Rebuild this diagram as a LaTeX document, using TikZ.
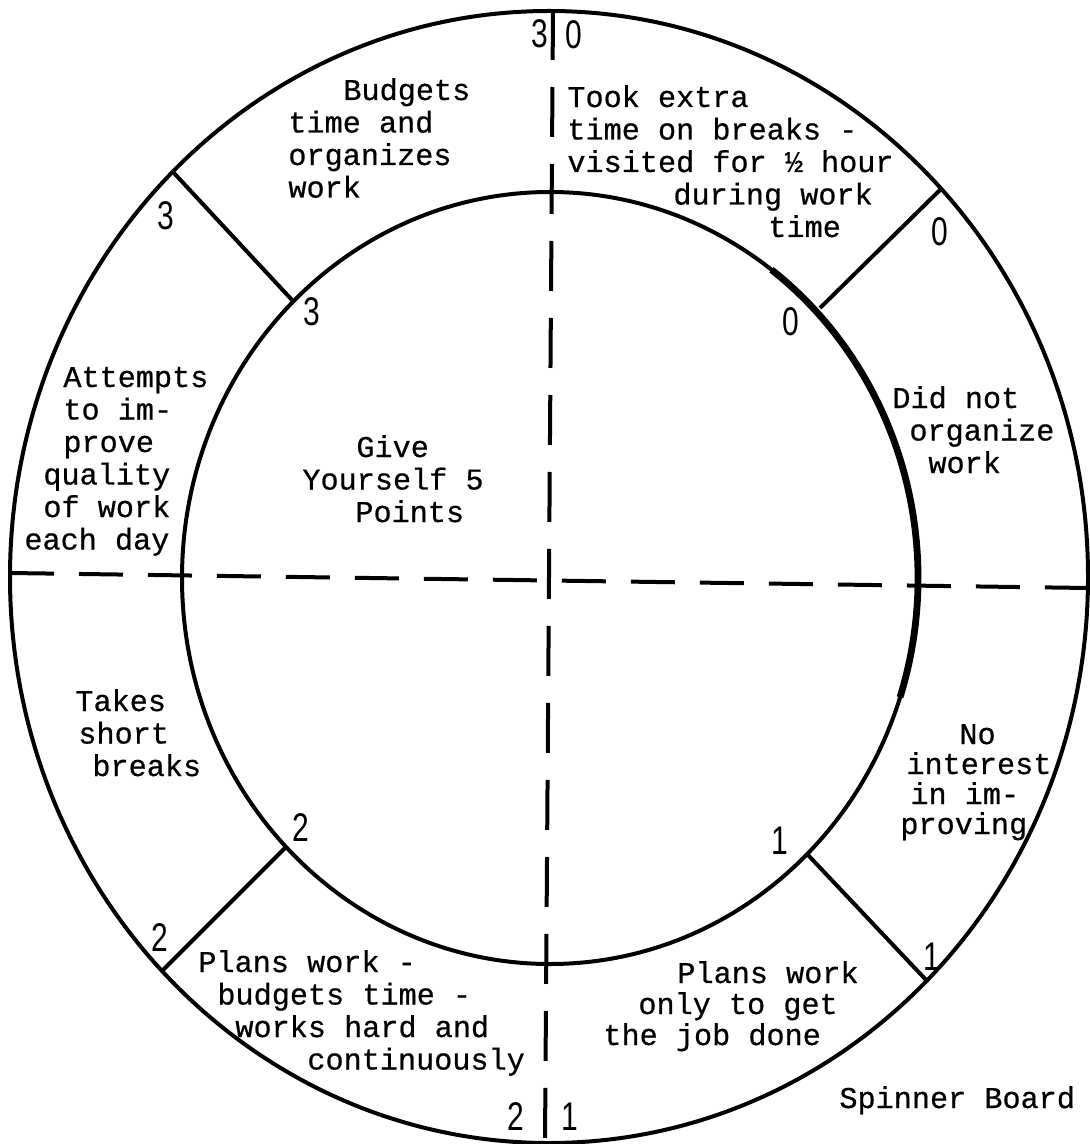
\documentclass[tikz,border=0pt]{standalone}
\usepackage{fontspec}
\setmonofont[FakeBold=0.6]{Liberation Mono}
\newfontfamily\digitfont[FakeStretch=0.75]{Liberation Sans}
\newcommand\myind[1]{\hspace*{#1pt}}
\begin{document}
\begin{tikzpicture}[x=0.5pt,y=-0.5pt,
  ring/.style={line width=2pt},
  thickring/.style={line width=3.4pt},
  spoke/.style={line width=2pt},
  vdash/.style={line width=2pt, dash pattern=on 25pt off 13.5pt},
  hdash/.style={line width=2pt, dash pattern=on 22pt off 12.5pt},
  label/.style={font=\ttfamily\fontsize{15.1}{16.25}\selectfont, align=left, anchor=base west, inner sep=0pt},
  num/.style={font=\digitfont\fontsize{20}{20}\selectfont, inner sep=0pt}
]
\useasboundingbox (0,0) rectangle (1089,1144);
% rings
\draw[ring] (549,577) ellipse [x radius=539, y radius=566];
\draw[ring] (550,578) ellipse [x radius=368, y radius=386];
\draw[thickring] ([shift={(550,578)}]-53:368 and 386) arc[start angle=-53, end angle=18, x radius=368, y radius=386];
% dashed axes
\draw[vdash] (553,10) -- (545,1142);
\draw[hdash] (10,573) -- (1088,588);
% spokes
\draw[spoke] (173,172) -- (292,300);
\draw[spoke] (942,188) -- (820,308);
\draw[spoke] (285,848) -- (163,970);
\draw[spoke] (808,855) -- (928,982);
% numbers
\node[num] (n1) at (540,34) {3};
\node[num] (n2) at (574,35) {0};
\node[num] (n3) at (166,216) {3};
\node[num] (n4) at (312,312) {3};
\node[num] (n5) at (940,232) {0};
\node[num] (n6) at (791,322) {0};
\node[num] (n7) at (301,828) {2};
\node[num] (n8) at (160,938) {2};
\node[num] (n9) at (780,841) {1};
\node[num] (n10) at (932,957) {1};
\node[num] (n11) at (516,1117) {2};
\node[num] (n12) at (570,1117) {1};
% texts (anchor = baseline of last line)
\node[label] (t1) at (288,197.5) {\myind{27.5}Budgets\\time and\\organizes\\work};
\node[label] (t2) at (567,237) {Took extra\\time on breaks -\\visited for ½ hour\\\myind{53}during work\\\myind{100.5}time};
\node[label] (t3) at (24,549.5) {\myind{19.5}Attempts\\\myind{19.5}to im-\\\myind{19.5}prove\\\myind{9.5}quality\\\myind{9.5}of work\\each day};
\node[label] (t4) at (302,522) {\myind{27}Give\\Yourself 5\\\myind{26.5}Points};
\node[label] (t5) at (892,473) {Did not\\\myind{8.5}organize\\\myind{18}work};
\node[label, font=\ttfamily\fontsize{15.1}{15}\selectfont] (t6) at (900,834) {\myind{29.5}No\\\myind{3}interest\\\myind{5}in im-\\proving};
\node[label] (t7) at (75,776) {Takes\\\myind{1.5}short\\\myind{8.5}breaks};
\node[label] (t8) at (198,1069.5) {Plans work -\\\myind{9.5}budgets time -\\\myind{18.5}works hard and\\\myind{54.5}continuously};
\node[label, font=\ttfamily\fontsize{15.1}{15.5}\selectfont] (t9) at (603,1045) {\myind{37}Plans work\\\myind{17.5}only to get\\the job done};
\node[label] (t10) at (839,1108) {Spinner Board};
\end{tikzpicture}
\end{document}
